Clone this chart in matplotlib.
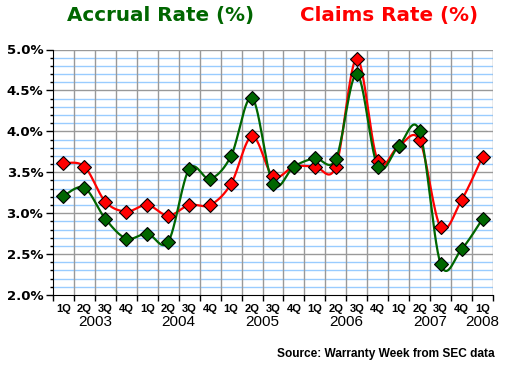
import numpy as np
import matplotlib
matplotlib.use("Agg")
import matplotlib.pyplot as plt
from matplotlib.ticker import MultipleLocator, FuncFormatter

quarters = ["1Q", "2Q", "3Q", "4Q"] * 5 + ["1Q"]
years = ["2003", "2004", "2005", "2006", "2007", "2008"]
year_pos = [1.5, 5.5, 9.5, 13.5, 17.5, 20]

accrual = [3.21, 3.31, 2.93, 2.69, 2.75, 2.65, 3.54, 3.42, 3.70, 4.41,
           3.36, 3.57, 3.67, 3.66, 4.70, 3.57, 3.82, 4.00, 2.38, 2.56, 2.93]
claims = [3.61, 3.57, 3.14, 3.02, 3.10, 2.97, 3.10, 3.10, 3.36, 3.94,
          3.45, 3.57, 3.57, 3.57, 4.89, 3.64, 3.82, 3.89, 2.83, 3.16, 3.69]

GREEN = "#006600"
RED = "#FF0000"


def smooth(x, y, n=30):
    x = np.asarray(x, float)
    y = np.asarray(y, float)
    xs, ys = [], []
    N = len(x)
    for i in range(N - 1):
        p0 = (x[max(i - 1, 0)], y[max(i - 1, 0)])
        p1 = (x[i], y[i])
        p2 = (x[i + 1], y[i + 1])
        p3 = (x[min(i + 2, N - 1)], y[min(i + 2, N - 1)])
        c1 = (p1[0] + (p2[0] - p0[0]) / 6, p1[1] + (p2[1] - p0[1]) / 6)
        c2 = (p2[0] - (p3[0] - p1[0]) / 6, p2[1] - (p3[1] - p1[1]) / 6)
        t = np.linspace(0, 1, n)
        bx = (1 - t) ** 3 * p1[0] + 3 * (1 - t) ** 2 * t * c1[0] + 3 * (1 - t) * t ** 2 * c2[0] + t ** 3 * p2[0]
        by = (1 - t) ** 3 * p1[1] + 3 * (1 - t) ** 2 * t * c1[1] + 3 * (1 - t) * t ** 2 * c2[1] + t ** 3 * p2[1]
        xs.extend(bx)
        ys.extend(by)
    return np.array(xs), np.array(ys)


fig = plt.figure(figsize=(5.05, 3.67), dpi=100)
L, R, T, B = 53, 493, 49.5, 295
ax = fig.add_axes([L / 505, 1 - B / 367, (R - L) / 505, (B - T) / 367])

x = np.arange(len(quarters))
ax.set_xlim(-0.5, len(quarters) - 0.5)
ax.set_ylim(2.0, 5.0)

# grid
for v in np.arange(2.1, 5.0, 0.1):
    if abs(round(v * 2) - v * 2) > 1e-6:
        ax.axhline(v, color="#99CCFF", lw=1, zorder=0)
for v in np.arange(2.5, 5.01, 0.5):
    ax.axhline(v, color="#999999", lw=1, zorder=0.5)
for b in np.arange(0.5, len(quarters) - 0.5, 1):
    ax.axvline(b, color="#999999", lw=1, zorder=0.5)
ax.axvline(len(quarters) - 0.5, color="#999999", lw=1, zorder=0.5)

for data, col in [(claims, RED), (accrual, GREEN)]:
    sx, sy = smooth(x, data)
    ax.plot(sx, sy, color=col, lw=1.6, zorder=3)
    ax.plot(x, data, ls="none", marker="D", ms=6.8, mfc=col, mec="black", mew=0.8, zorder=4)

for s in ["top", "right"]:
    ax.spines[s].set_visible(False)
ax.spines["left"].set_color("black")
ax.spines["bottom"].set_color("black")

ax.yaxis.set_major_locator(MultipleLocator(0.5))
ax.yaxis.set_minor_locator(MultipleLocator(0.1))
ax.yaxis.set_major_formatter(FuncFormatter(lambda v, p: f"{v:.1f}%"))
ax.tick_params(axis="y", which="major", length=5, width=1, direction="out", pad=2)
ax.tick_params(axis="y", which="minor", length=2.5, width=1, direction="out")
for lab in ax.get_yticklabels():
    lab.set_fontfamily("DejaVu Sans")
    lab.set_fontweight("bold")
    lab.set_fontsize(9.5)

ax.set_xticks(np.arange(-0.5, len(quarters), 1))
ax.set_xticklabels([])
ax.tick_params(axis="x", which="major", length=4, width=1, direction="out")

for i, q in enumerate(quarters):
    ax.text(i, -0.058, q, transform=ax.get_xaxis_transform(), ha="center", va="center",
            fontsize=8, fontweight="bold", family="Liberation Sans")
for yp, yr in zip(year_pos, years):
    ax.text(yp, -0.112, yr, transform=ax.get_xaxis_transform(), ha="center", va="center",
            fontsize=11, family="Liberation Sans")

fig.text(67 / 505, 1 - 15 / 367, "Accrual Rate (%)", color=GREEN, fontsize=14.3,
         fontweight="bold", family="DejaVu Sans", ha="left", va="center")
fig.text(300 / 505, 1 - 15 / 367, "Claims Rate (%)", color=RED, fontsize=14.3,
         fontweight="bold", family="DejaVu Sans", ha="left", va="center")
fig.text(495 / 505, 1 - 354 / 367, "Source: Warranty Week from SEC data", fontsize=8.6,
         fontweight="bold", family="Liberation Sans", ha="right", va="center")

fig.savefig("out.png", dpi=100)
